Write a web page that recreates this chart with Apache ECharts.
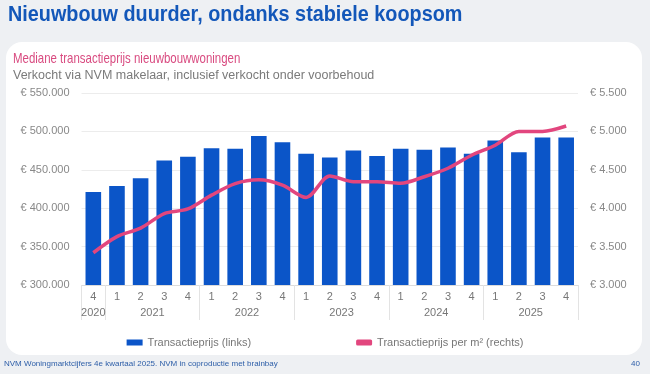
<!DOCTYPE html>
<html><head><meta charset="utf-8">
<script src="https://cdn.jsdelivr.net/npm/echarts@6/dist/echarts.min.js"></script>
<style>html,body{margin:0;padding:0;background:#eef0f3;}#c{width:650px;height:374px;}</style>
</head><body><div id="c"></div>
<script>
const quarters = ['4','1','2','3','4','1','2','3','4','1','2','3','4','1','2','3','4','1','2','3','4'];
const years = ['2020','2021','2022','2023','2024','2025'];
const quartersPerYear = [1,4,4,4,4,4];
const prices = [421000,429000,439000,462000,467000,478000,477500,494000,486000,471000,466000,475000,468000,477500,476000,479000,471000,488000,473000,492000,492000];
const pricePerM2 = [3420,3630,3740,3930,3990,4170,4320,4370,4300,4140,4420,4345,4345,4325,4410,4520,4690,4820,5000,5000,5070];
const titleText = 'Nieuwbouw duurder, ondanks stabiele koopsom';
const chartTitle = 'Mediane transactieprijs nieuwbouwwoningen';
const chartSub = 'Verkocht via NVM makelaar, inclusief verkocht onder voorbehoud';
const footer = 'NVM Woningmarktcijfers 4e kwartaal 2025. NVM in coproductie met brainbay';
const pageNo = '40';

// half-quarter slots for year axis
const yearSlots = [];
const sepSlots = new Set();
let p = 0;
sepSlots.add(0);
years.forEach((y, i) => {
  const n = quartersPerYear[i] * 2;
  for (let k = 0; k < n; k++) yearSlots[p + k] = '';
  yearSlots[p + n / 2] = y;
  p += n;
  sepSlots.add(p);
});
yearSlots[p] = '';

const fmt = v => '€ ' + String(v).replace(/\B(?=(\d{3})+(?!\d))/g, '.');
const FONT = 'Liberation Sans, Arial, sans-serif';

const chart = echarts.init(document.getElementById('c'), null, {renderer: 'canvas'});
chart.setOption({
  backgroundColor: '#eef0f3',
  textStyle: {fontFamily: FONT},
  animation: false,
  graphic: [
    {type: 'rect', z: -10, shape: {x: 6, y: 42, width: 636, height: 313, r: 16}, style: {fill: '#ffffff'}},
    {type: 'text', x: 8, y: 4, scaleX: 0.9, style: {text: titleText, font: 'bold 22px ' + FONT, fill: '#1357b9'}},
    {type: 'text', x: 13, y: 51, scaleX: 0.79, style: {text: chartTitle, font: '14.5px ' + FONT, fill: '#d94b80'}},
    {type: 'text', x: 13, y: 69, style: {text: chartSub, font: '12.5px ' + FONT, fill: '#7a7a7a'}},
    {type: 'text', left: 4, top: 360, style: {text: footer, font: '8px ' + FONT, fill: '#2d5ea8'}},
    {type: 'text', right: 10, top: 360, style: {text: pageNo, font: '8px ' + FONT, fill: '#2d5ea8'}}
  ],
  grid: {left: 81.5, right: 72, top: 93, height: 192},
  legend: {
    left: 'center', top: 332, itemGap: 105, itemWidth: 16, itemHeight: 6,
    textStyle: {color: '#777', fontSize: 11, fontFamily: FONT},
    data: [
      {name: 'Transactieprijs (links)', icon: 'rect'},
      {name: 'Transactieprijs per m² (rechts)', icon: 'roundRect'}
    ]
  },
  xAxis: [
    {type: 'category', data: quarters, boundaryGap: true,
     axisLine: {lineStyle: {color: '#dcdcdc'}}, axisTick: {show: false},
     axisLabel: {color: '#777', fontSize: 11, margin: 6}},
    {type: 'category', data: yearSlots, boundaryGap: false, position: 'bottom', offset: 0,
     axisLine: {show: false},
     axisTick: {show: true, length: 35, lineStyle: {color: '#e3e3e3'}, interval: (i) => sepSlots.has(i)},
     axisLabel: {color: '#777', fontSize: 11, margin: 22, interval: (i, v) => v !== ''}}
  ],
  yAxis: [
    {type: 'value', min: 300000, max: 550000, interval: 50000,
     axisLabel: {formatter: fmt, color: '#888', fontSize: 11, margin: 12},
     splitLine: {lineStyle: {color: '#ececec'}}},
    {type: 'value', min: 3000, max: 5500, interval: 500,
     axisLabel: {formatter: fmt, color: '#888', fontSize: 11, margin: 12},
     splitLine: {show: false}}
  ],
  series: [
    {name: 'Transactieprijs (links)', type: 'bar', data: prices, xAxisIndex: 0, yAxisIndex: 0,
     barCategoryGap: '34%', itemStyle: {color: '#0b55c8'}},
    {name: 'Transactieprijs per m² (rechts)', type: 'line', data: pricePerM2, xAxisIndex: 0, yAxisIndex: 1,
     smooth: 0.3, showSymbol: false, symbol: 'none', lineStyle: {color: '#e2467e', width: 3.5}, itemStyle: {color: '#e2467e'}}
  ]
});
</script></body></html>
